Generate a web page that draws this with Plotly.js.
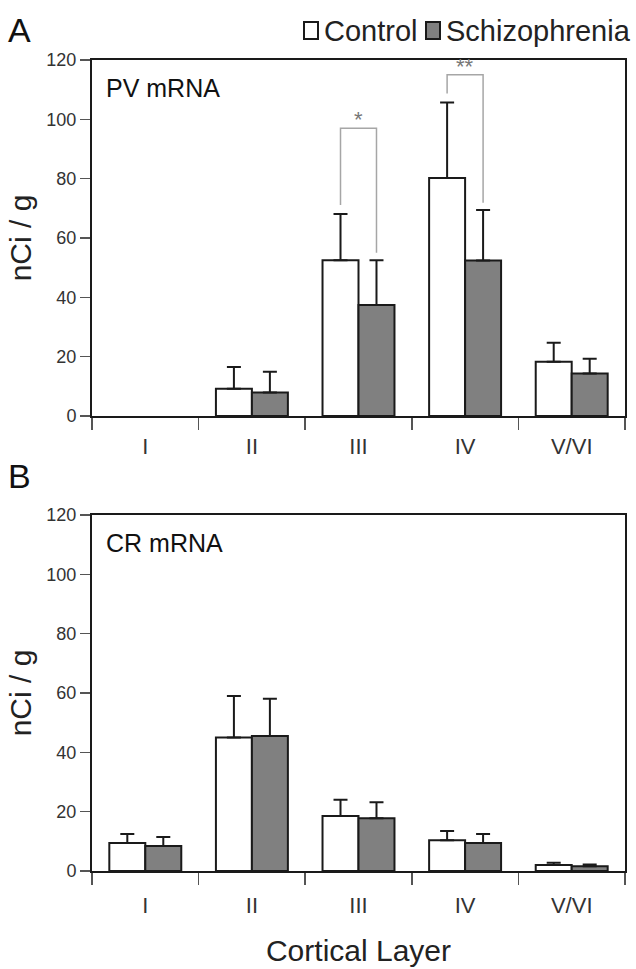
<!DOCTYPE html>
<html>
<head>
<meta charset="utf-8">
<script src="https://cdn.plot.ly/plotly-3.0.1.min.js"></script>
<style>html,body{margin:0;padding:0;background:#fff;}#chart{width:636px;height:969px;}</style>
</head>
<body>
<div id="chart"></div>
<script>
// ---- data ----
const categories = ['I', 'II', 'III', 'IV', 'V/VI'];
const seriesNames = ['Control', 'Schizophrenia'];
const pvControl    = [null, 9.2, 52.5, 80.2, 18.3];
const pvControlErr = [null, 7.3, 15.6, 25.5, 6.4];
const pvSchizo     = [null, 7.9, 37.4, 52.4, 14.3];
const pvSchizoErr  = [null, 7.0, 15.1, 17.0, 5.0];
const crControl    = [9.4, 45.0, 18.5, 10.4, 2.0];
const crControlErr = [3.1, 14.0, 5.5, 3.1, 0.8];
const crSchizo     = [8.4, 45.5, 17.8, 9.4, 1.6];
const crSchizoErr  = [3.1, 12.6, 5.4, 3.1, 0.6];
const sigCats   = ['III', 'IV'];
const sigLabels = ['*', '**'];
const sigTop    = [97, 115];

const FONT = 'Liberation Sans, Arial, sans-serif';
const BARGAP = 0.325;
const colors = ['#ffffff', '#808080'];
const W = 636, H = 969;

function barTrace(name, y, err, color, xa, ya) {
  return {
    type: 'bar', name: name, x: categories, y: y, xaxis: xa, yaxis: ya,
    showlegend: false,
    marker: {color: color, line: {color: '#1a1a1a', width: 2}},
    error_y: {type: 'data', array: err, arrayminus: err.map(() => 0), symmetric: false,
              color: '#1a1a1a', thickness: 2, width: 7}
  };
}

const traces = [
  barTrace(seriesNames[0], pvControl, pvControlErr, colors[0], 'x', 'y'),
  barTrace(seriesNames[1], pvSchizo, pvSchizoErr, colors[1], 'x', 'y'),
  barTrace(seriesNames[0], crControl, crControlErr, colors[0], 'x2', 'y2'),
  barTrace(seriesNames[1], crSchizo, crSchizoErr, colors[1], 'x2', 'y2')
];

const shapes = [];
const annotations = [];

// significance brackets (from bar geometry and error tops)
const half = (1 - BARGAP) / 4;
sigCats.forEach((c, k) => {
  const i = categories.indexOf(c);
  const xl = i - half, xr = i + half;
  const lb = pvControl[i] + pvControlErr[i] + 3;
  const rb = pvSchizo[i] + pvSchizoErr[i] + 2.5;
  const top = sigTop[k];
  shapes.push({type: 'path', xref: 'x', yref: 'y',
    path: `M ${xl},${lb} L ${xl},${top} L ${xr},${top} L ${xr},${rb}`,
    line: {color: '#a6a6a6', width: 1.5}});
  annotations.push({xref: 'x', yref: 'y', x: i, y: top, yanchor: 'bottom', yshift: -6,
    text: sigLabels[k], showarrow: false, font: {family: FONT, size: 22, color: '#777'}});
});

// manual legend (top right)
const legendItems = [{x0: 304, tx: 322}, {x0: 426, tx: 444}];
seriesNames.forEach((n, k) => {
  const li = legendItems[k];
  shapes.push({type: 'rect', xref: 'paper', yref: 'paper',
    x0: li.x0 / W, x1: (li.x0 + 14) / W, y0: 1 - 39 / H, y1: 1 - 22 / H,
    fillcolor: colors[k], line: {color: '#1a1a1a', width: 2}});
  annotations.push({xref: 'paper', yref: 'paper', x: li.tx / W, y: 1 - 31 / H,
    xanchor: 'left', yanchor: 'middle', text: n, showarrow: false,
    font: {family: FONT, size: 29, color: '#222'}});
});

function label(text, x, y, size) {
  annotations.push({xref: 'paper', yref: 'paper', x: x / W, y: 1 - y / H,
    xanchor: 'left', yanchor: 'middle', text: text, showarrow: false,
    font: {family: FONT, size: size, color: '#111'}});
}
label('A', 6, 30, 34);
label('B', 6, 476, 34);
label('PV mRNA', 104, 88, 25);
label('CR mRNA', 104, 543, 25);

function xAxis(anchor, standoff, titleText) {
  const ax = {
    domain: [92 / W, 625 / W], anchor: anchor, type: 'category',
    showline: true, linecolor: '#1a1a1a', linewidth: 2, mirror: true,
    ticks: 'outside', tickson: 'boundaries', ticklen: 12, tickwidth: 1.5, tickcolor: '#555',
    ticklabelstandoff: standoff,
    tickfont: {family: FONT, size: 22, color: '#333'},
    showgrid: false, zeroline: false, fixedrange: true
  };
  if (titleText) ax.title = {text: titleText, font: {family: FONT, size: 30, color: '#222'}, standoff: 23};
  return ax;
}
function yAxis(domain, anchor) {
  return {
    domain: domain, anchor: anchor, range: [0, 120], dtick: 20,
    showline: true, linecolor: '#1a1a1a', linewidth: 2, mirror: true,
    ticks: 'outside', ticklen: 10, tickwidth: 1.5, tickcolor: '#555',
    tickfont: {family: FONT, size: 18, color: '#333'},
    showgrid: false, zeroline: false, fixedrange: true,
    title: {text: 'nCi / g', font: {family: FONT, size: 30, color: '#222'}, standoff: 6}
  };
}

const layout = {
  width: W, height: H,
  margin: {l: 0, r: 0, t: 0, b: 0},
  paper_bgcolor: '#fff', plot_bgcolor: '#fff',
  barmode: 'group', bargap: BARGAP, bargroupgap: 0,
  showlegend: false,
  xaxis: xAxis('y', 10, null),
  yaxis: yAxis([1 - 416 / H, 1 - 60 / H], 'x'),
  xaxis2: xAxis('y2', 14, 'Cortical Layer'),
  yaxis2: yAxis([1 - 871 / H, 1 - 515 / H], 'x2'),
  shapes: shapes,
  annotations: annotations
};

Plotly.newPlot('chart', traces, layout, {displayModeBar: false, staticPlot: true});
</script>
</body>
</html>
